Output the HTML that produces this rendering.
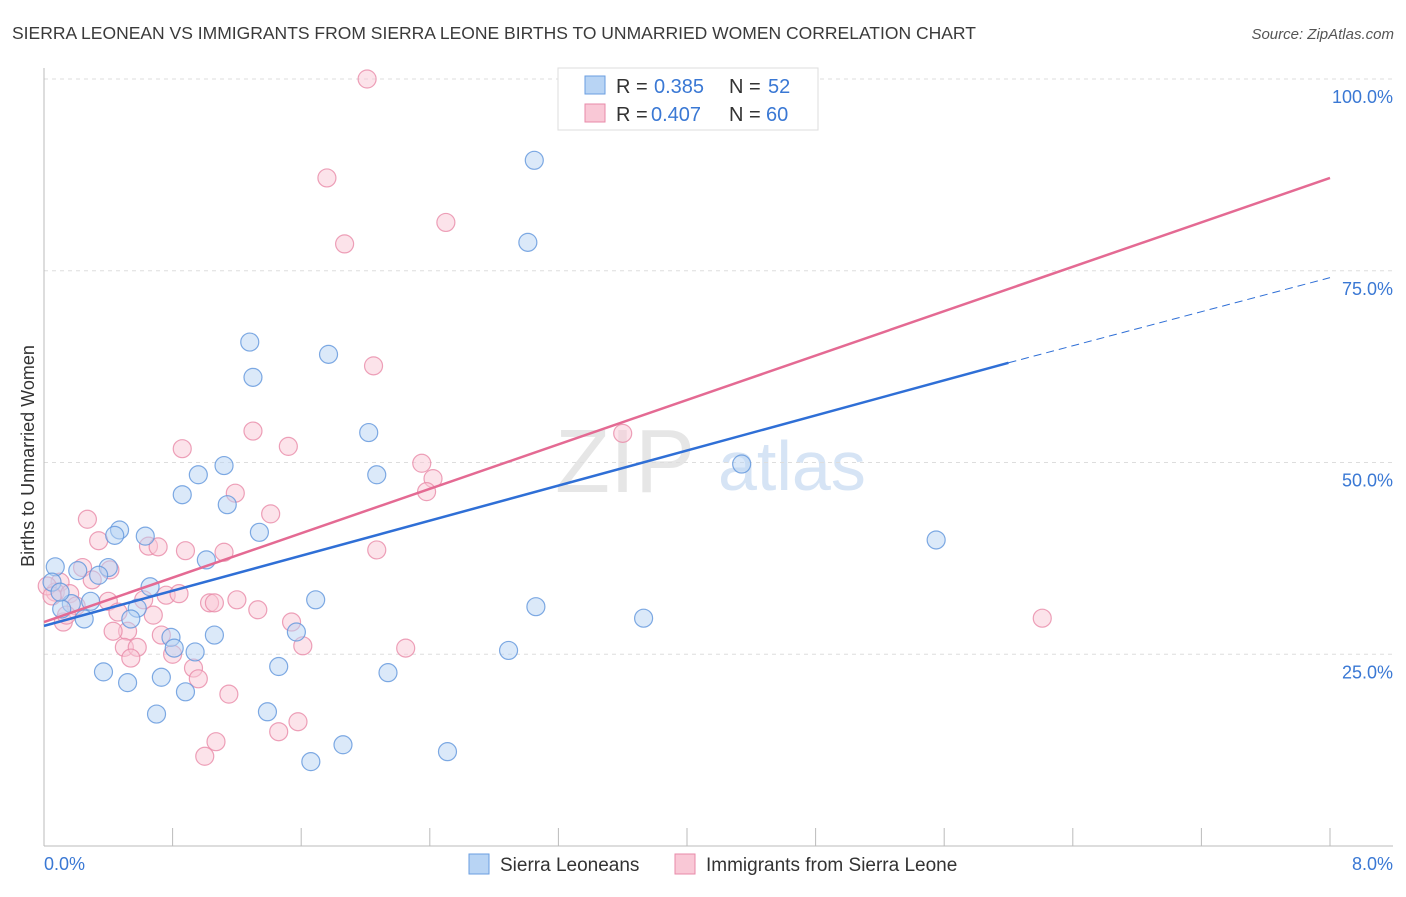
<!DOCTYPE html>
<html><head><meta charset="utf-8"><style>
body{margin:0;background:#fff;font-family:"Liberation Sans",sans-serif;}
svg text{font-family:"Liberation Sans",sans-serif;}
</style></head><body>
<svg id="chart" width="1406" height="892">
<text x="12" y="39" font-size="17.5" fill="#3a3a3a">SIERRA LEONEAN VS IMMIGRANTS FROM SIERRA LEONE BIRTHS TO UNMARRIED WOMEN CORRELATION CHART</text>
<text x="1394" y="39" font-size="15" fill="#555" text-anchor="end" font-style="italic">Source: ZipAtlas.com</text>
<text x="34" y="456" font-size="18" fill="#333" text-anchor="middle" transform="rotate(-90 34 456)">Births to Unmarried Women</text>
<text x="555" y="492" font-size="90" fill="#e6e6e6" font-family="Liberation Serif">ZIP</text>
<text x="718" y="490" font-size="70" fill="#d6e4f5">atlas</text>
<g id="grid"></g><g id="axes"></g><g id="pts"></g><g id="lines"></g>
<g>
<rect x="558" y="68" width="260" height="62" fill="#fff" stroke="#ddd"/>
<rect x="585" y="76" width="20" height="18" fill="#b8d4f4" stroke="#6a9ee0"/>
<rect x="585" y="104" width="20" height="18" fill="#f9c8d6" stroke="#e88aa8"/>
<text x="616" y="93" font-size="20" fill="#333">R =</text><text x="654" y="93" font-size="20" fill="#3a78d4">0.385</text>
<text x="729" y="93" font-size="20" fill="#333">N =</text><text x="768" y="93" font-size="20" fill="#3a78d4">52</text>
<text x="616" y="121" font-size="20" fill="#333">R =</text><text x="651" y="121" font-size="20" fill="#3a78d4">0.407</text>
<text x="729" y="121" font-size="20" fill="#333">N =</text><text x="766" y="121" font-size="20" fill="#3a78d4">60</text>
</g>
<g>
<rect x="469" y="854" width="20" height="20" fill="#b8d4f4" stroke="#6a9ee0"/>
<text x="500" y="871" font-size="19" fill="#333">Sierra Leoneans</text>
<rect x="675" y="854" width="20" height="20" fill="#f9c8d6" stroke="#e88aa8"/>
<text x="706" y="871" font-size="19" fill="#333">Immigrants from Sierra Leone</text>
</g>
</svg>
<script>
const xTicks=[0,0.8,1.6,2.4,3.2,4,4.8,5.6,6.4,7.2,8];
const yTicks=[25,50,75,100];
const yTickLabels=["25.0%","50.0%","75.0%","100.0%"];
const blueX=[3.05,3.01,1.28,1.30,1.77,2.02,2.07,1.12,0.96,0.86,1.14,4.34,5.55,0.47,0.44,0.63,1.34,1.01,0.40,0.21,0.34,0.07,0.66,0.58,0.29,0.17,0.11,0.25,0.54,1.69,3.06,3.73,0.79,0.81,0.94,1.06,1.57,2.89,0.37,0.52,0.73,0.88,1.46,2.14,1.39,0.70,1.86,2.51,1.66,4.66,0.05,0.10];
const blueY=[89.4,78.7,65.7,61.1,64.1,53.9,48.4,49.6,48.4,45.8,44.5,49.8,39.9,41.2,40.5,40.4,40.9,37.3,36.3,35.9,35.3,36.4,33.8,31.0,31.9,31.6,30.9,29.6,29.6,32.1,31.2,29.7,27.2,25.8,25.3,27.5,27.9,25.5,22.7,21.3,22.0,20.1,23.4,22.6,17.5,17.2,13.2,12.3,11.0,99.9,34.4,33.1];
const pinkX=[2.01,1.76,1.87,2.50,2.05,1.30,0.86,1.52,2.35,2.42,2.38,1.19,1.41,0.27,0.34,0.65,0.71,0.88,1.12,2.07,0.24,0.30,0.41,0.10,0.07,0.16,0.40,0.62,0.76,0.84,1.03,1.06,1.20,1.33,0.68,0.46,0.20,0.12,1.54,0.52,0.43,0.73,0.50,0.58,0.80,1.61,2.25,0.93,0.96,0.54,1.15,1.46,1.58,1.07,1.00,3.60,6.21,0.02,0.05,0.14];
const pinkY=[100,87.1,78.5,81.3,62.6,54.1,51.8,52.1,49.9,47.9,46.2,46.0,43.3,42.6,39.8,39.1,39.0,38.5,38.3,38.6,36.3,34.7,36.0,34.4,33.1,32.9,31.9,32.1,32.7,32.9,31.7,31.7,32.1,30.8,30.1,30.5,31.3,29.2,29.2,28.0,28.0,27.5,25.9,25.9,25.0,26.1,25.8,23.2,21.8,24.5,19.8,14.9,16.2,13.6,11.7,53.8,29.7,33.9,32.6,30.1];
const blueLine=[0,28.7,6.0,63.0,8,74.1];
const pinkLine=[0,29.2,8,87.1];
const X=v=>44+v/8*1286, Y=v=>846-v*7.67;
const ns="http://www.w3.org/2000/svg";
function mk(t,a,p){const e=document.createElementNS(ns,t);for(const k in a)e.setAttribute(k,a[k]);p.appendChild(e);return e;}
const g=document.getElementById('grid'),ax=document.getElementById('axes'),pts=document.getElementById('pts'),ln=document.getElementById('lines');
yTicks.forEach((v,i)=>{
 const l=mk('line',{x1:44,x2:1393,y1:Y(v),y2:Y(v),stroke:'#ddd','stroke-dasharray':'4 4'},g);
 
 
 const t=mk('text',{x:1393,y:Y(v)+24,'font-size':18,fill:'#3a78d4','text-anchor':'end'},ax);t.textContent=yTickLabels[i];
 
 
});
mk('line',{x1:44,x2:44,y1:68,y2:846,stroke:'#bbb'},ax);
mk('line',{x1:44,x2:1393,y1:846,y2:846,stroke:'#bbb'},ax);
xTicks.forEach(v=>{const l=mk('line',{x1:X(v),x2:X(v),y1:828,y2:846,stroke:'#bbb'},ax);
 
 });
let t=mk('text',{x:44,y:870,'font-size':18,fill:'#3a78d4'},ax);t.textContent='0.0%';


t=mk('text',{x:1393,y:870,'font-size':18,fill:'#3a78d4','text-anchor':'end'},ax);t.textContent='8.0%';


function draw(xs,ys,fill,stroke,name){xs.forEach((x,i)=>{const c=mk('circle',{cx:X(x),cy:Y(ys[i]),r:9,fill:fill,'fill-opacity':0.5,stroke:stroke,'stroke-opacity':0.8,'stroke-width':1.2},pts);
 
 });}
draw(pinkX,pinkY,'#f9c8d6','#e88aa8','pink-point');
draw(blueX,blueY,'#b8d4f4','#5f95dc','blue-point');
let a=mk('line',{x1:X(blueLine[0]),y1:Y(blueLine[1]),x2:X(blueLine[2]),y2:Y(blueLine[3]),stroke:'#2f6fd6','stroke-width':2.5},ln);


a=mk('line',{x1:X(blueLine[2]),y1:Y(blueLine[3]),x2:X(blueLine[4]),y2:Y(blueLine[5]),stroke:'#2f6fd6','stroke-width':1,'stroke-dasharray':'8 5'},ln);


a=mk('line',{x1:X(pinkLine[0]),y1:Y(pinkLine[1]),x2:X(pinkLine[2]),y2:Y(pinkLine[3]),stroke:'#e46a93','stroke-width':2.5},ln);


</script>
</body></html>
